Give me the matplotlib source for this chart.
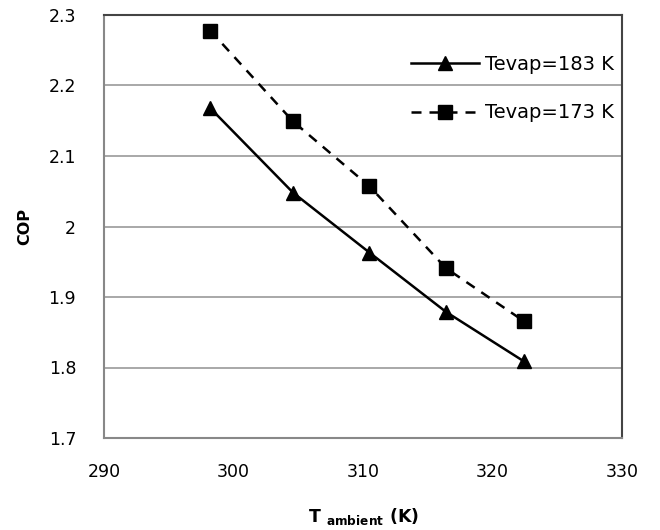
import matplotlib.pyplot as plt

# data
t_ambient = [298.2, 304.6, 310.5, 316.4, 322.4]
cop_183 = [2.168, 2.048, 1.963, 1.879, 1.809]
cop_173 = [2.278, 2.149, 2.057, 1.941, 1.866]
labels = ['Tevap=183 K', 'Tevap=173 K']
x_ticks = [290, 300, 310, 320, 330]
y_ticks = [1.7, 1.8, 1.9, 2.0, 2.1, 2.2, 2.3]
y_tick_labels = ['1.7', '1.8', '1.9', '2', '2.1', '2.2', '2.3']

plt.rcParams['font.family'] = ['DejaVu Sans']
plt.rcParams['mathtext.fontset'] = 'dejavusans'

fig = plt.figure(figsize=(6.6, 5.3), dpi=100)
ax = fig.add_axes([104 / 660, 1 - 438 / 530, 518 / 660, 423 / 530])

ax.plot(t_ambient, cop_183, color='black', lw=1.8, marker='^', ms=10, label=labels[0])
ax.plot(t_ambient, cop_173, color='black', lw=1.8, ls=(0, (4, 3.2)), marker='s', ms=9.5,
        label=labels[1])

ax.set_xlim(290, 330)
ax.set_ylim(1.7, 2.3)
ax.set_xticks(x_ticks)
ax.set_yticks(y_ticks)
ax.set_yticklabels(y_tick_labels)
ax.tick_params(length=0, labelsize=12.5, pad=18)
ax.tick_params(axis='y', pad=20)
ax.yaxis.grid(True, color='#999999', lw=1.2)
ax.set_axisbelow(True)

for side in ['left', 'bottom']:
    ax.spines[side].set_color('#888888')
    ax.spines[side].set_linewidth(1.5)
for side in ['top', 'right']:
    ax.spines[side].set_color('#444444')
    ax.spines[side].set_linewidth(1.5)

ax.set_ylabel('COP', fontsize=11.5, fontweight='bold', labelpad=12)
ax.set_xlabel(r'T $_{\mathbf{ambient}}$ (K)', fontsize=12.5, fontweight='bold', labelpad=18)

leg = ax.legend(loc='upper left', bbox_to_anchor=(0.593, 0.905), frameon=False,
                fontsize=14, labelspacing=1.5, handlelength=3.5, handletextpad=0.3,
                borderpad=0, borderaxespad=0)
for txt in leg.get_texts():
    txt.set_clip_box(ax.bbox)
    txt.set_clip_on(True)

fig.savefig('out.png', dpi=100)
